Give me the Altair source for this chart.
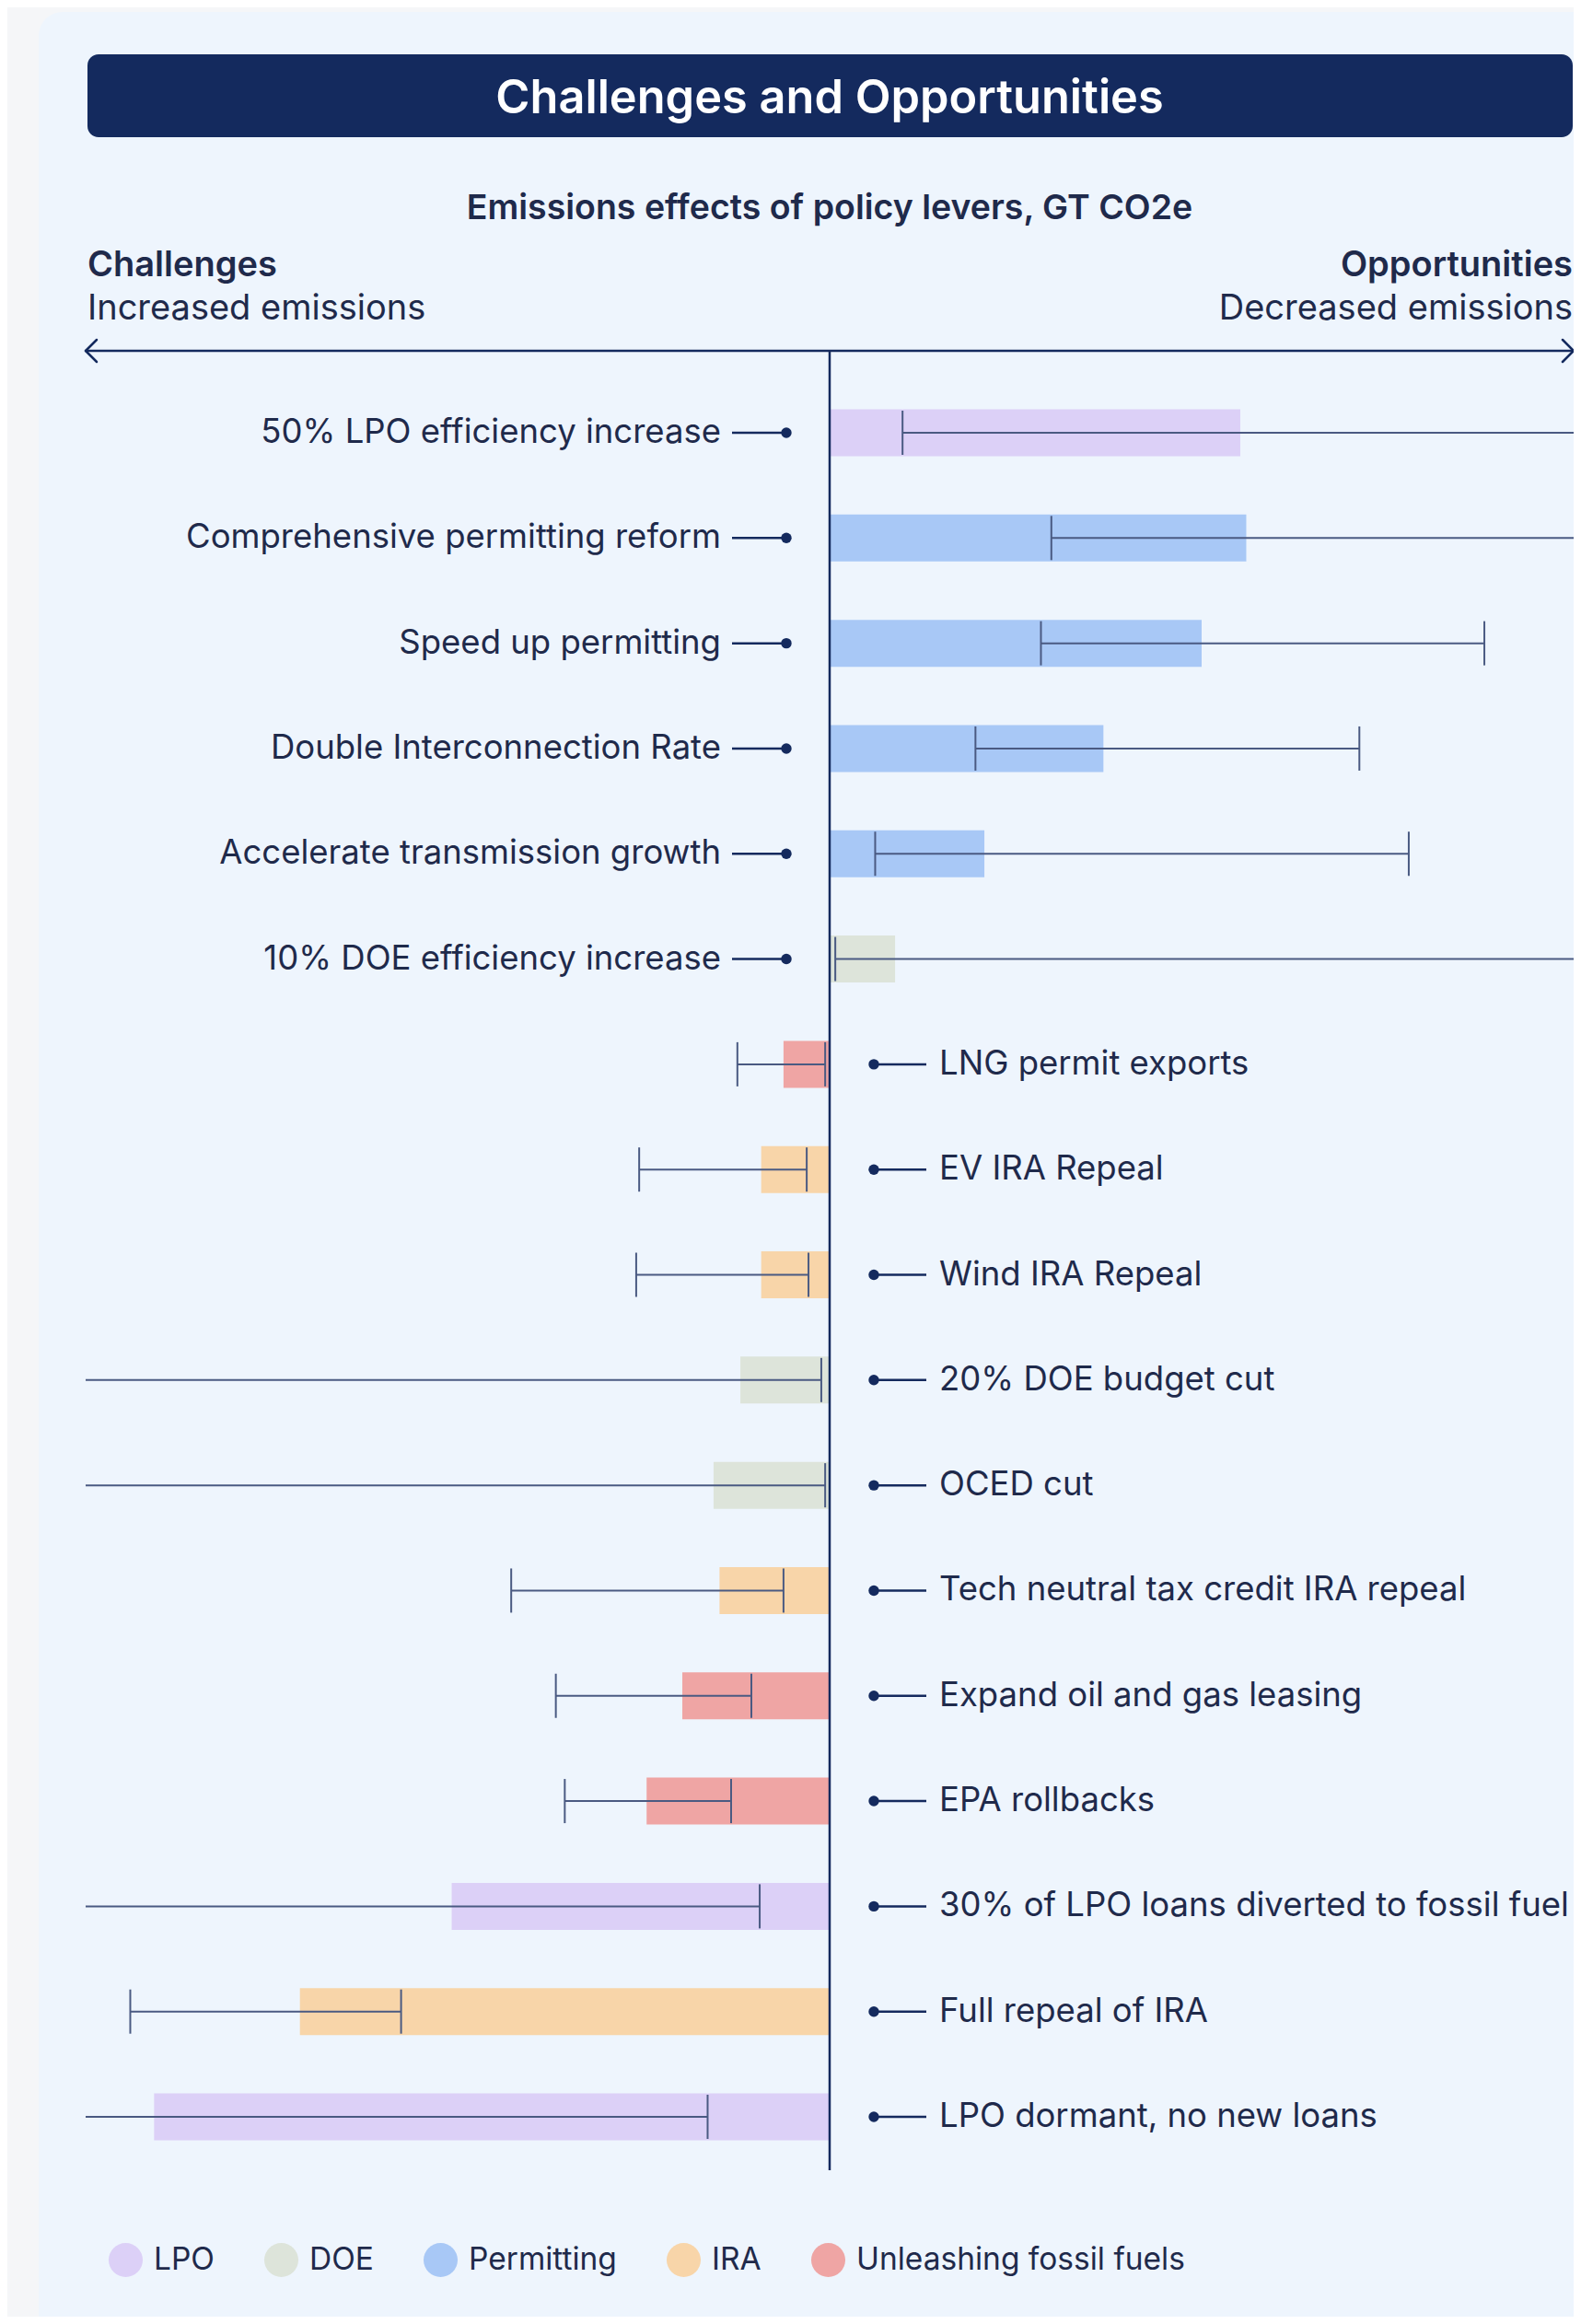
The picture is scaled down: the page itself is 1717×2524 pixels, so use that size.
import altair as alt
import pandas as pd

# ---------------- data ----------------
categories = [
    "50% LPO efficiency increase",
    "Comprehensive permitting reform",
    "Speed up permitting",
    "Double Interconnection Rate",
    "Accelerate transmission growth",
    "10% DOE efficiency increase",
    "LNG permit exports",
    "EV IRA Repeal",
    "Wind IRA Repeal",
    "20% DOE budget cut",
    "OCED cut",
    "Tech neutral tax credit IRA repeal",
    "Expand oil and gas leasing",
    "EPA rollbacks",
    "30% of LPO loans diverted to fossil fuel",
    "Full repeal of IRA",
    "LPO dormant, no new loans",
]
groups = [
    "LPO", "Permitting", "Permitting", "Permitting", "Permitting", "DOE",
    "Unleashing fossil fuels", "IRA", "IRA", "DOE", "DOE", "IRA",
    "Unleashing fossil fuels", "Unleashing fossil fuels", "LPO", "IRA", "LPO",
]
values = [1.38, 1.40, 1.25, 0.92, 0.52, 0.22,
          -0.155, -0.23, -0.23, -0.30, -0.39, -0.37,
          -0.495, -0.615, -1.27, -1.78, -2.27]
err_low = [0.245, 0.745, 0.71, 0.49, 0.153, 0.019,
           -0.31, -0.64, -0.65, -3.2, -3.2, -1.07,
           -0.92, -0.89, -3.2, -2.35, -3.2]
err_high = [3.2, 3.2, 2.20, 1.78, 1.946, 3.2,
            -0.015, -0.077, -0.071, -0.028, -0.015, -0.155,
            -0.263, -0.331, -0.235, -1.44, -0.41]

legend_groups = ["LPO", "DOE", "Permitting", "IRA", "Unleashing fossil fuels"]
legend_colors = ["#DCD0F7", "#DDE4DA", "#A8C8F6", "#F8D5A9", "#EFA5A4"]

title_text = "Challenges and Opportunities"
subtitle_text = "Emissions effects of policy levers, GT CO2e"
left_head = ["Challenges", "Increased emissions"]
right_head = ["Opportunities", "Decreased emissions"]

DOMAIN = [-2.5, 2.5]

# ---------------- styling ----------------
NAVY = "#142A5E"
TEXT = "#1F2A4B"
ERR = "#4A5A82"
FONT = "Inter"

df = pd.DataFrame({
    "policy": categories, "group": groups, "value": values,
    "lo": err_low, "hi": err_high,
})
df["idx"] = list(range(len(df)))
df["side"] = ["opp" if v > 0 else "chal" for v in values]

tick_rows = []
for i, (a, b) in enumerate(zip(err_low, err_high)):
    for e in (a, b):
        if DOMAIN[0] < e < DOMAIN[1]:
            tick_rows.append({"idx": i, "end": e})
ticks = pd.DataFrame(tick_rows)

one = alt.Data(values=[{"k": 1}])

xs = alt.Scale(domain=DOMAIN, range=[85, 1701], clamp=True)
ys = alt.Scale(domain=[0, len(categories) - 1], range=[457, 2296])

panel = alt.Chart(one).mark_rect(fill="#EEF5FD", cornerRadius=26).encode(
    x=alt.value(34), x2=alt.value(1780), y=alt.value(5), y2=alt.value(2600))

title_bar = alt.Chart(one).mark_rect(fill=NAVY, cornerRadius=12).encode(
    x=alt.value(87), x2=alt.value(1700), y=alt.value(51), y2=alt.value(141))

title = alt.Chart(one).mark_text(
    text=title_text, font=FONT, fontSize=50.5, fontWeight=600, color="white",
    align="center", baseline="middle").encode(x=alt.value(893), y=alt.value(100))

subtitle = alt.Chart(one).mark_text(
    text=subtitle_text, font=FONT, fontSize=37.5, fontWeight=600, color=TEXT,
    align="center", baseline="middle").encode(x=alt.value(893), y=alt.value(219))

lh1 = alt.Chart(one).mark_text(
    text=left_head[0], font=FONT, fontSize=38, fontWeight=600, color=TEXT,
    align="left", baseline="middle").encode(x=alt.value(87), y=alt.value(281))
lh2 = alt.Chart(one).mark_text(
    text=left_head[1], font=FONT, fontSize=38, fontWeight=400, color=TEXT,
    align="left", baseline="middle").encode(x=alt.value(87), y=alt.value(328))
rh1 = alt.Chart(one).mark_text(
    text=right_head[0], font=FONT, fontSize=38, fontWeight=600, color=TEXT,
    align="right", baseline="middle").encode(x=alt.value(1700), y=alt.value(281))
rh2 = alt.Chart(one).mark_text(
    text=right_head[1], font=FONT, fontSize=38, fontWeight=400, color=TEXT,
    align="right", baseline="middle").encode(x=alt.value(1700), y=alt.value(328))

arrow_y = 373
arrow_line = alt.Chart(one).mark_rule(color=NAVY, strokeWidth=2.5).encode(
    x=alt.value(85), x2=alt.value(1701), y=alt.value(arrow_y))
heads = []
for tip, back in ((85, 97), (1701, 1689)):
    for dy in (-12, 12):
        heads.append(alt.Chart(one).mark_rule(color=NAVY, strokeWidth=2.5, strokeCap="round").encode(
            x=alt.value(tip), x2=alt.value(back), y=alt.value(arrow_y), y2=alt.value(arrow_y + dy)))

bars = alt.Chart(df).mark_bar(size=51, orient="horizontal").encode(
    x=alt.X("value:Q", scale=xs, axis=None),
    x2=alt.datum(0),
    y=alt.Y("idx:Q", scale=ys, axis=None),
    color=alt.Color("group:N", scale=alt.Scale(domain=legend_groups, range=legend_colors),
                    legend=alt.Legend(orient="none", legendX=110, legendY=2428,
                                      direction="horizontal", title=None,
                                      symbolType="circle", symbolSize=1369,
                                      symbolStrokeWidth=0, symbolOpacity=1,
                                      labelFont=FONT, labelFontSize=33.5, labelColor=TEXT,
                                      labelLimit=0, labelOffset=12, columnPadding=54,
                                      padding=0)),
)

err_rules = alt.Chart(df).mark_rule(color=ERR, strokeWidth=2).encode(
    x=alt.X("lo:Q", scale=xs, axis=None), x2="hi:Q",
    y=alt.Y("idx:Q", scale=ys, axis=None))

err_ticks = alt.Chart(ticks).mark_tick(orient="vertical", size=48, thickness=2,
                                       color=ERR, opacity=1).encode(
    x=alt.X("end:Q", scale=xs, axis=None),
    y=alt.Y("idx:Q", scale=ys, axis=None))

zero_line = alt.Chart(one).mark_rule(color=NAVY, strokeWidth=2.5).encode(
    x=alt.datum(0), y=alt.value(arrow_y), y2=alt.value(2349))

opp = alt.Chart(df).transform_filter(alt.datum.side == "opp")
chal = alt.Chart(df).transform_filter(alt.datum.side == "chal")
Y = alt.Y("idx:Q", scale=ys, axis=None)

LABEL_SIZE = 36.5

opp_text = opp.mark_text(font=FONT, fontSize=LABEL_SIZE, color=TEXT, align="right",
                         baseline="middle").encode(x=alt.value(775), y=Y, text="policy:N")
opp_conn = opp.mark_rule(color=NAVY, strokeWidth=2.5).encode(
    x=alt.value(787), x2=alt.value(846), y=Y)
opp_dot = opp.mark_point(filled=True, shape="circle", size=130, color=NAVY, opacity=1).encode(
    x=alt.value(846), y=Y)

chal_text = chal.mark_text(font=FONT, fontSize=LABEL_SIZE, color=TEXT, align="left",
                           baseline="middle").encode(x=alt.value(1012), y=Y, text="policy:N")
chal_conn = chal.mark_rule(color=NAVY, strokeWidth=2.5).encode(
    x=alt.value(941), x2=alt.value(998), y=Y)
chal_dot = chal.mark_point(filled=True, shape="circle", size=130, color=NAVY, opacity=1).encode(
    x=alt.value(941), y=Y)

chart = alt.layer(
    panel, title_bar, title, subtitle, lh1, lh2, rh1, rh2, arrow_line, *heads,
    bars, err_rules, err_ticks, zero_line,
    opp_text, opp_conn, opp_dot, chal_text, chal_conn, chal_dot,
).properties(
    width=1701, height=2508,
    autosize=alt.AutoSizeParams(type="none"),
    padding=0,
    background="#F5F6F8",
).configure_view(strokeWidth=0)

chart.save("out.html", embed_options={"renderer": "svg", "actions": False})
